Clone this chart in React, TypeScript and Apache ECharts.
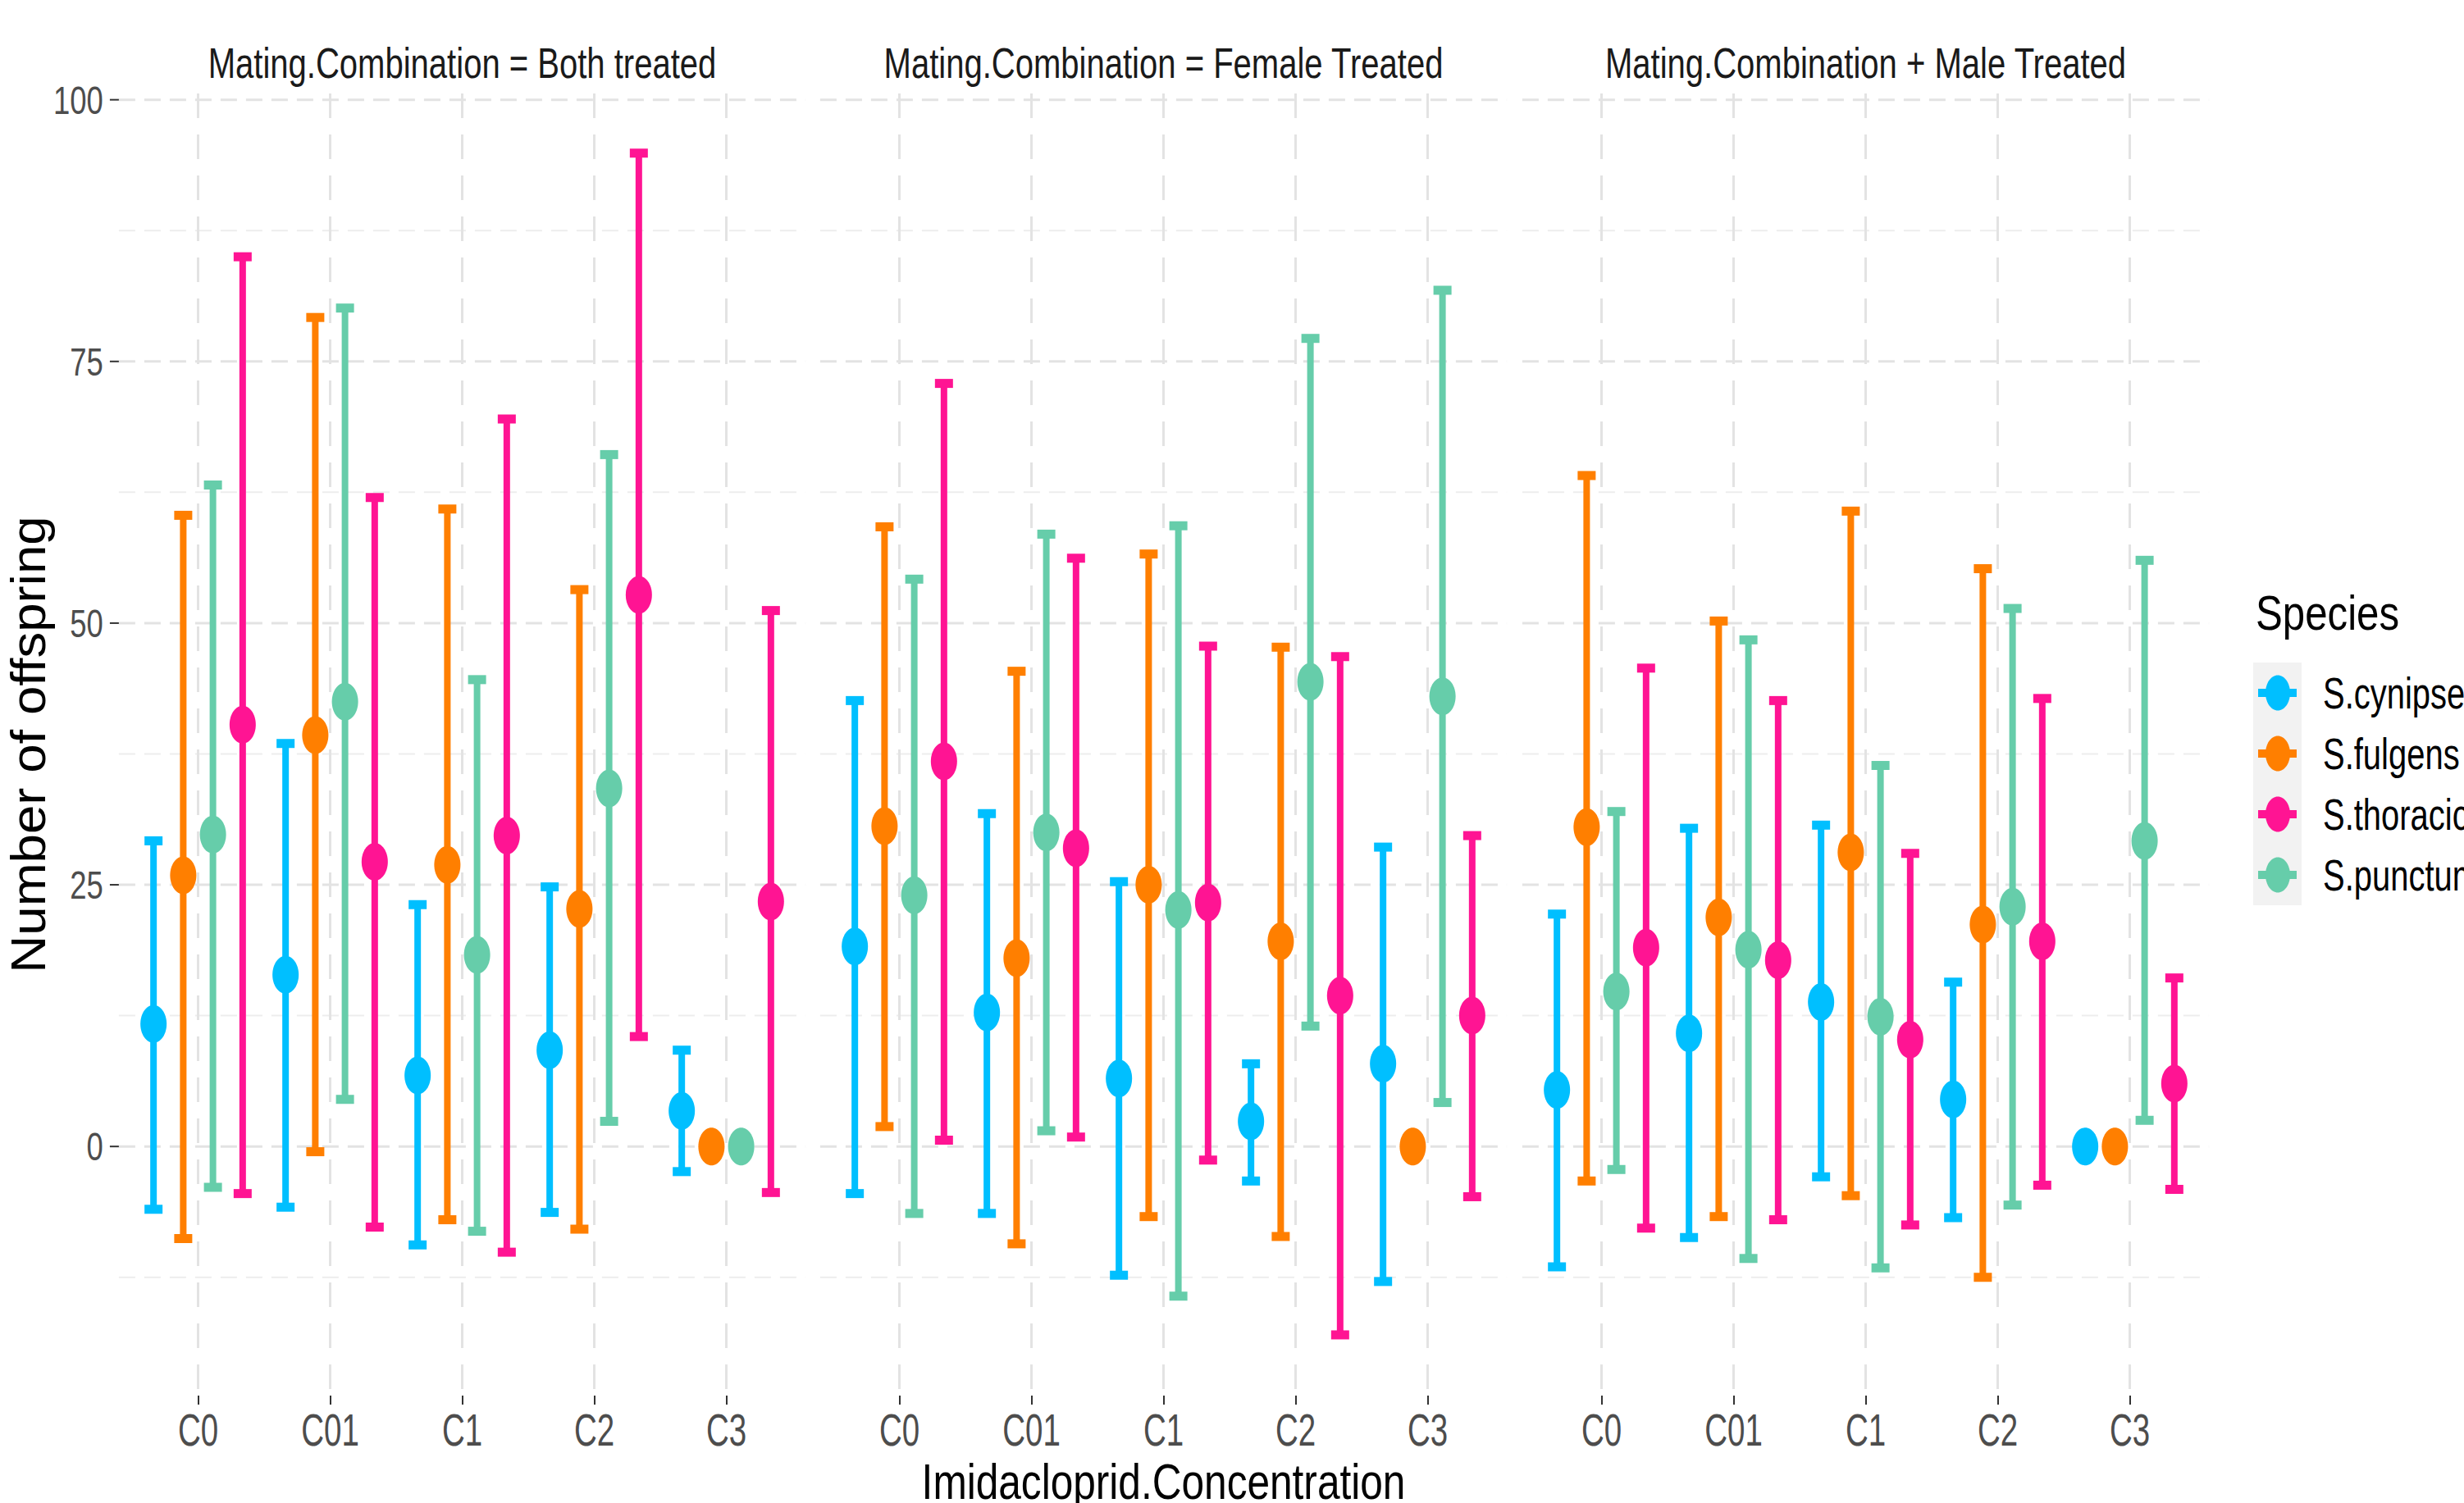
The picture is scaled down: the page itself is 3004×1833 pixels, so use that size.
import React, { useEffect, useRef } from "react";
import * as echarts from "echarts";

const categories = ["C0", "C01", "C1", "C2", "C3"];
const panelTitles = [
  "Mating.Combination = Both treated",
  "Mating.Combination = Female Treated",
  "Mating.Combination + Male Treated",
];
const species = ["S.cynipsea", "S.fulgens", "S.thoracica", "S.punctum"];
const speciesColors = ["#00BFFF", "#FF7F00", "#FF1493", "#66CDAA"];
const dodgeSlot = [0, 1, 3, 2];
const yTicks = [0, 25, 50, 75, 100];
const yMinorGrid = [-12.5, 12.5, 37.5, 62.5, 87.5];
const xTitle = "Imidacloprid.Concentration";
const yTitle = "Number of offspring";
const legendTitle = "Species";

// [panel][category]
const cynipseaMean = [[11.7, 16.4, 6.8, 9.2, 3.4], [19.1, 12.8, 6.5, 2.4, 7.9], [5.4, 10.8, 13.8, 4.5, 0]];
const cynipseaLow = [[-6.0, -5.8, -9.4, -6.3, -2.4], [-4.5, -6.4, -12.3, -3.3, -12.9], [-11.5, -8.7, -2.9, -6.8, 0]];
const cynipseaHigh = [[29.2, 38.5, 23.1, 24.8, 9.2], [42.6, 31.8, 25.3, 7.9, 28.6], [22.2, 30.4, 30.7, 15.7, 0]];

const fulgensMean = [[25.9, 39.3, 26.9, 22.7, 0], [30.6, 18.0, 25.0, 19.6, 0], [30.5, 21.9, 28.1, 21.2, 0]];
const fulgensLow = [[-8.8, -0.5, -7.0, -7.9, 0], [1.9, -9.3, -6.7, -8.6, 0], [-3.3, -6.7, -4.7, -12.5, 0]];
const fulgensHigh = [[60.3, 79.2, 60.9, 53.2, 0], [59.2, 45.4, 56.6, 47.7, 0], [64.1, 50.2, 60.7, 55.2, 0]];

const thoracicaMean = [[40.3, 27.2, 29.7, 52.7, 23.4], [36.8, 28.5, 23.3, 14.4, 12.5], [19.0, 17.8, 10.2, 19.6, 6.0]];
const thoracicaLow = [[-4.5, -7.7, -10.1, 10.5, -4.4], [0.6, 0.9, -1.3, -18.0, -4.8], [-7.8, -7.0, -7.5, -3.7, -4.1]];
const thoracicaHigh = [[85.0, 62.0, 69.5, 94.9, 51.2], [72.9, 56.2, 47.8, 46.8, 29.7], [45.7, 42.6, 28.0, 42.8, 16.1]];

const punctumMean = [[29.8, 42.5, 18.3, 34.2, 0], [24.0, 30.0, 22.6, 44.4, 43.0], [14.8, 18.8, 12.4, 22.9, 29.2]];
const punctumLow = [[-3.9, 4.5, -8.1, 2.4, 0], [-6.4, 1.5, -14.3, 11.5, 4.2], [-2.2, -10.7, -11.6, -5.6, 2.5]];
const punctumHigh = [[63.2, 80.1, 44.6, 66.1, 0], [54.2, 58.5, 59.3, 77.2, 81.8], [32.0, 48.4, 36.4, 51.4, 56.0]];

const speciesMean = [cynipseaMean, fulgensMean, thoracicaMean, punctumMean];
const speciesLow = [cynipseaLow, fulgensLow, thoracicaLow, punctumLow];
const speciesHigh = [cynipseaHigh, fulgensHigh, thoracicaHigh, punctumHigh];

const FONT = '"Liberation Sans", Arial, Helvetica, sans-serif';

const W = 3004;
const H = 1833;
const Y_MIN = -23.8;
const Y_MAX = 100.6;
// each category band; the panel extends 0.1 band beyond the grid on both sides (ggplot expansion 0.6)
const gridLefts = [161, 1016, 1872];
const gridWidth = 805;
const gridTop = 114;
const gridHeight = 1588;
const PANEL_EXTRA = 0.1;

function buildOption() {
  const grids = gridLefts.map((l) => ({
    left: l,
    top: gridTop,
    width: gridWidth,
    height: gridHeight,
    containLabel: false,
    outerBoundsMode: "none",
  }));
  const xAxes = gridLefts.map((_, i) => ({
    type: "category",
    gridIndex: i,
    data: categories,
    boundaryGap: true,
    axisLine: { show: false, onZero: false },
    axisTick: { show: true, alignWithLabel: true, length: 11, lineStyle: { color: "#333333", width: 2 } },
    axisLabel: { show: false },
    splitLine: { show: false },
  }));
  const yAxes = gridLefts.map((_, i) => ({
    type: "value",
    gridIndex: i,
    min: Y_MIN,
    max: Y_MAX,
    axisLine: { show: false, onZero: false },
    axisTick: { show: false },
    axisLabel: { show: false },
    splitLine: { show: false },
  }));

  const series: any[] = [];
  gridLefts.forEach((_, p) => {
    // horizontal gridlines
    const hData = [...yTicks.map((v) => [0, v, 1]), ...yMinorGrid.map((v) => [0, v, 0])];
    series.push({
      type: "custom",
      xAxisIndex: p,
      yAxisIndex: p,
      z: 1,
      silent: true,
      data: hData,
      renderItem: (params: any, api: any) => {
        const cs = params.coordSys;
        const bw = api.size([1, 0])[0];
        const y = api.coord([0, api.value(1)])[1];
        const major = api.value(2) === 1;
        return {
          type: "line",
          shape: { x1: cs.x - PANEL_EXTRA * bw, y1: y, x2: cs.x + cs.width + PANEL_EXTRA * bw, y2: y },
          style: { stroke: major ? "#e3e3e3" : "#ededed", lineWidth: major ? 3 : 2, lineDash: [20, 11] },
        };
      },
    });
    // vertical gridlines
    series.push({
      type: "custom",
      xAxisIndex: p,
      yAxisIndex: p,
      z: 1,
      silent: true,
      data: categories.map((_, i) => [i, 0]),
      renderItem: (params: any, api: any) => {
        const cs = params.coordSys;
        const x = api.coord([api.value(0), 0])[0];
        return {
          type: "line",
          shape: { x1: x, y1: cs.y, x2: x, y2: cs.y + cs.height },
          style: { stroke: "#e3e3e3", lineWidth: 3, lineDash: [30, 20] },
        };
      },
    });
    // x tick labels (condensed)
    series.push({
      type: "custom",
      xAxisIndex: p,
      yAxisIndex: p,
      z: 2,
      silent: true,
      data: categories.map((_, i) => [i, Y_MIN]),
      renderItem: (params: any, api: any) => {
        const pt = api.coord([api.value(0), api.value(1)]);
        return {
          type: "text",
          x: pt[0],
          y: pt[1] + 42,
          scaleX: 0.7,
          style: {
            text: categories[params.dataIndex],
            fontSize: 55,
            fontFamily: FONT,
            fill: "#4d4d4d",
            textAlign: "center",
            textVerticalAlign: "middle",
          },
        };
      },
    });
    if (p === 0) {
      // y ticks and tick labels (condensed), placed at the panel's left edge
      series.push({
        type: "custom",
        xAxisIndex: p,
        yAxisIndex: p,
        z: 2,
        silent: true,
        data: yTicks.map((v) => [0, v]),
        renderItem: (params: any, api: any) => {
          const cs = params.coordSys;
          const bw = api.size([1, 0])[0];
          const left = cs.x - PANEL_EXTRA * bw;
          const pt = api.coord([0, api.value(1)]);
          return {
            type: "group",
            children: [
              {
                type: "line",
                shape: { x1: left - 11, y1: pt[1], x2: left, y2: pt[1] },
                style: { stroke: "#333333", lineWidth: 2 },
              },
              {
                type: "text",
                x: left - 19,
                y: pt[1],
                scaleX: 0.76,
                style: {
                  text: String(yTicks[params.dataIndex]),
                  fontSize: 48,
                  fontFamily: FONT,
                  fill: "#4d4d4d",
                  textAlign: "right",
                  textVerticalAlign: "middle",
                },
              },
            ],
          };
        },
      });
    }
    species.forEach((name, k) => {
      const color = speciesColors[k];
      const slot = dodgeSlot[k];
      const data = categories.map((_, c) => [c, speciesMean[k][p][c], speciesLow[k][p][c], speciesHigh[k][p][c]]);
      series.push({
        type: "custom",
        name,
        xAxisIndex: p,
        yAxisIndex: p,
        z: 3,
        itemStyle: { color },
        encode: { x: 0, y: [1, 2, 3] },
        data,
        renderItem: (params: any, api: any) => {
          const ci = api.value(0);
          const c = api.coord([ci, api.value(1)]);
          const lo = api.coord([ci, api.value(2)]);
          const hi = api.coord([ci, api.value(3)]);
          const bw = api.size([1, 0])[0];
          const cx = c[0] + (slot - 1.5) * 0.225 * bw;
          return {
            type: "group",
            children: [
              { type: "line", shape: { x1: cx, y1: lo[1], x2: cx, y2: hi[1] }, style: { stroke: color, lineWidth: 8 } },
              { type: "rect", shape: { x: cx - 11, y: hi[1] - 5.5, width: 22, height: 11 }, style: { fill: color } },
              { type: "rect", shape: { x: cx - 11, y: lo[1] - 5.5, width: 22, height: 11 }, style: { fill: color } },
              { type: "ellipse", shape: { cx, cy: c[1], rx: 16, ry: 23 }, style: { fill: color } },
            ],
          };
        },
      });
    });
  });

  const graphics: any[] = panelTitles.map((t, i) => ({
    type: "text",
    x: gridLefts[i] + gridWidth / 2,
    y: 77,
    scaleX: 0.77,
    style: { text: t, fontSize: 52, fontFamily: FONT, fill: "#1a1a1a", textAlign: "center", textVerticalAlign: "middle" },
  }));
  // axis titles
  graphics.push({
    type: "text",
    x: gridLefts[1] + gridWidth / 2,
    y: 1806,
    scaleX: 0.8,
    style: { text: xTitle, fontSize: 62, fontFamily: FONT, fill: "#000000", textAlign: "center", textVerticalAlign: "middle" },
  });
  graphics.push({
    type: "text",
    x: 34,
    y: gridTop + gridHeight / 2,
    rotation: Math.PI / 2,
    scaleX: 1.06,
    style: { text: yTitle, fontSize: 60, fontFamily: FONT, fill: "#000000", textAlign: "center", textVerticalAlign: "middle" },
  });
  // legend
  graphics.push({
    type: "text",
    x: 2750,
    y: 747,
    scaleX: 0.82,
    style: { text: legendTitle, fontSize: 60, fontFamily: FONT, fill: "#000000", textAlign: "left", textVerticalAlign: "middle" },
  });
  const rowStart = 845;
  const rowStep = 74;
  graphics.push({
    type: "rect",
    shape: { x: 2747, y: rowStart - rowStep / 2, width: 59, height: rowStep * species.length },
    style: { fill: "#f2f2f2" },
  });
  species.forEach((name, k) => {
    const cy = rowStart + k * rowStep;
    graphics.push({
      type: "rect",
      shape: { x: 2753, y: cy - 5, width: 47, height: 10 },
      style: { fill: speciesColors[k] },
    });
    graphics.push({
      type: "ellipse",
      shape: { cx: 2777, cy, rx: 15, ry: 21.5 },
      style: { fill: speciesColors[k] },
    });
    graphics.push({
      type: "text",
      x: 2832,
      y: cy,
      scaleX: 0.74,
      style: { text: name, fontSize: 54, fontFamily: FONT, fill: "#000000", textAlign: "left", textVerticalAlign: "middle" },
    });
  });

  return {
    animation: false,
    backgroundColor: "#ffffff",
    grid: grids,
    xAxis: xAxes,
    yAxis: yAxes,
    graphic: graphics,
    series,
  };
}

export default function App() {
  const ref = useRef<HTMLDivElement>(null);
  useEffect(() => {
    document.body.style.margin = "0";
    if (!ref.current) return;
    const chart = echarts.init(ref.current, null, { renderer: "svg" });
    chart.setOption(buildOption() as any);
    return () => chart.dispose();
  }, []);
  return <div ref={ref} style={{ width: W, height: H, overflow: "hidden" }} />;
}
